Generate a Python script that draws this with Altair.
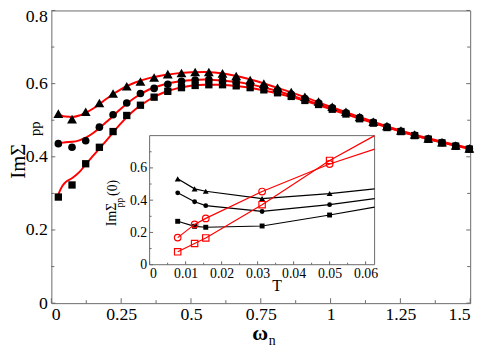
import altair as alt
import pandas as pd

# ---------------- main panel data ----------------
omega_n = [0.025, 0.074, 0.123, 0.172, 0.221, 0.270, 0.319, 0.368, 0.417, 0.466,
           0.515, 0.564, 0.613, 0.662, 0.712, 0.761, 0.810, 0.859, 0.908, 0.957,
           1.006, 1.055, 1.104, 1.153, 1.202, 1.252, 1.301, 1.350, 1.399, 1.448, 1.497]
tri_main = [0.518, 0.503, 0.523, 0.547, 0.573, 0.593, 0.606, 0.617, 0.626, 0.629,
            0.632, 0.632, 0.628, 0.621, 0.610, 0.600, 0.589, 0.577, 0.564, 0.551,
            0.537, 0.523, 0.509, 0.496, 0.484, 0.472, 0.461, 0.450, 0.440, 0.431, 0.423]
circ_main = [0.436, 0.426, 0.444, 0.481, 0.515, 0.547, 0.573, 0.587, 0.598, 0.606,
             0.610, 0.611, 0.609, 0.605, 0.599, 0.591, 0.582, 0.571, 0.559, 0.547,
             0.534, 0.520, 0.507, 0.494, 0.482, 0.470, 0.459, 0.449, 0.439, 0.430, 0.422]
sq_main = [0.290, 0.323, 0.381, 0.426, 0.469, 0.513, 0.541, 0.563, 0.579, 0.589,
           0.595, 0.597, 0.597, 0.594, 0.589, 0.583, 0.575, 0.565, 0.554, 0.543,
           0.530, 0.517, 0.504, 0.492, 0.480, 0.469, 0.458, 0.448, 0.438, 0.429, 0.421]

# red fitted curves
tri_curve_w = [0.02, 0.035, 0.05, 0.075, 0.1, 0.125, 0.15, 0.2, 0.25, 0.3, 0.35, 0.4, 0.45,
               0.5, 0.55, 0.6, 0.7, 0.8, 0.9, 1.0, 1.1, 1.2, 1.3, 1.4, 1.5]
tri_curve = [0.519, 0.513, 0.510, 0.509, 0.513, 0.521, 0.532, 0.560, 0.585, 0.603, 0.615, 0.623, 0.628,
             0.631, 0.632, 0.629, 0.614, 0.591, 0.565, 0.537, 0.510, 0.484, 0.461, 0.441, 0.423]
circ_curve_w = [0.02, 0.035, 0.05, 0.075, 0.1, 0.125, 0.15, 0.2, 0.25, 0.3, 0.35, 0.4, 0.45,
                0.5, 0.55, 0.6, 0.7, 0.8, 0.9, 1.0, 1.1, 1.2, 1.3, 1.4, 1.5]
circ_curve = [0.436, 0.438, 0.440, 0.441, 0.445, 0.453, 0.465, 0.497, 0.532, 0.562, 0.584, 0.597, 0.605,
              0.609, 0.611, 0.609, 0.600, 0.582, 0.558, 0.533, 0.507, 0.482, 0.459, 0.439, 0.422]
sq_curve_w = [0.022, 0.03, 0.04, 0.05, 0.075, 0.1, 0.125, 0.15, 0.2, 0.25, 0.3, 0.35, 0.4, 0.45,
              0.5, 0.55, 0.6, 0.7, 0.8, 0.9, 1.0, 1.1, 1.2, 1.3, 1.4, 1.5]
sq_curve = [0.290, 0.306, 0.321, 0.330, 0.342, 0.358, 0.381, 0.403, 0.447, 0.492, 0.529, 0.556, 0.575, 0.587,
            0.594, 0.597, 0.597, 0.590, 0.575, 0.555, 0.530, 0.505, 0.481, 0.458, 0.439, 0.421]

# ---------------- inset data ----------------
T_points = [0.0078, 0.0125, 0.0156, 0.03125, 0.05]
T_line = [0.0078, 0.0125, 0.0156, 0.03125, 0.05, 0.0625]
ins_tri = [0.532, 0.470, 0.455, 0.410, 0.441, 0.470]
ins_circ = [0.4455, 0.390, 0.366, 0.330, 0.372, 0.410]
ins_sq = [0.269, 0.238, 0.232, 0.240, 0.308, 0.357]
ins_open_circ = [0.168, 0.250, 0.287, 0.4535, 0.624, 0.716]
ins_open_sq = [0.080, 0.1315, 0.166, 0.372, 0.646, 0.800]

# tick values
main_x_major = [0, 0.25, 0.5, 0.75, 1, 1.25, 1.5]
main_x_minor = [0.125, 0.375, 0.625, 0.875, 1.125, 1.375]
main_y_major = [0, 0.2, 0.4, 0.6, 0.8]
main_y_minor = [0.1, 0.3, 0.5, 0.7]
ins_x_major = [0, 0.01, 0.02, 0.03, 0.04, 0.05, 0.06]
ins_x_minor = [0.005, 0.015, 0.025, 0.035, 0.045, 0.055]
ins_y_major = [0, 0.2, 0.4, 0.6]
ins_y_minor = [0.1, 0.3, 0.5, 0.7]

# ---------------- layout / style ----------------
W, H = 425, 297
IX0, IX1 = 99.7, 328.0      # inset left/right in plot pixels
IY0, IY1 = 258.0, 127.0     # inset bottom/top in plot pixels
FRAME = "#6a6a6a"
FONT = "Liberation Serif"
LBL = "'' + datum.value"

XS = alt.Scale(domain=[0, 1.5], nice=False, zero=False)
YS = alt.Scale(domain=[0, 0.8], nice=False, zero=False)
XAX = alt.Axis(values=main_x_major, labelExpr=LBL, ticks=False, domain=False, grid=False, title=None,
               labelFont=FONT, labelFontSize=18, labelColor="black", labelPadding=3, orient="bottom")
YAX = alt.Axis(values=main_y_major, labelExpr=LBL, ticks=False, domain=False, grid=False, title=None,
               labelFont=FONT, labelFontSize=18, labelColor="black", labelPadding=4, orient="left",
               labelOffset={"condition": {"test": "datum.value > 0.79", "value": 6.5}, "value": 0})

IXS = alt.Scale(domain=[0, 0.0625], range=[IX0, IX1], nice=False, zero=False)
IYS = alt.Scale(domain=[0, 0.8], range=[IY0, IY1], nice=False, zero=False)
IXAX = alt.Axis(values=ins_x_major, labelExpr=LBL, ticks=False, domain=False, grid=False, title=None,
                labelFont=FONT, labelFontSize=14, labelColor="black", labelPadding=2,
                orient="bottom", offset=IY0 - H)
IYAX = alt.Axis(values=ins_y_major, labelExpr=LBL, ticks=False, domain=False, grid=False, title=None,
                labelFont=FONT, labelFontSize=14, labelColor="black", labelPadding=3,
                orient="left", offset=-IX0)


def mx(f):
    return alt.X(f, type="quantitative", scale=XS, axis=XAX)


def my(f):
    return alt.Y(f, type="quantitative", scale=YS, axis=YAX)


def ix(f):
    return alt.X(f, type="quantitative", scale=IXS, axis=IXAX)


def iy(f):
    return alt.Y(f, type="quantitative", scale=IYS, axis=IYAX)


def label(txt, px, py, size, angle=0, weight="normal"):
    return alt.Chart(pd.DataFrame({"t": [txt]})).mark_text(
        font=FONT, fontSize=size, angle=angle, align="center", baseline="middle",
        color="black", fontWeight=weight
    ).encode(text="t:N", x=alt.value(px), y=alt.value(py))


# ---------------- main panel ----------------
main_layers = []
# ticks (inward)
for vals, ln in [(main_x_major, 5), (main_x_minor, 3)]:
    main_layers.append(alt.Chart(pd.DataFrame({"t": vals})).mark_rule(color=FRAME, strokeWidth=1)
                       .encode(x=mx("t"), y=alt.value(H), y2=alt.value(H - ln)))
for vals, ln in [(main_y_major, 4), (main_y_minor, 3)]:
    df = pd.DataFrame({"t": vals})
    main_layers.append(alt.Chart(df).mark_rule(color=FRAME, strokeWidth=1)
                       .encode(y=my("t"), x=alt.value(0), x2=alt.value(ln)))
    main_layers.append(alt.Chart(df).mark_rule(color=FRAME, strokeWidth=1)
                       .encode(y=my("t"), x=alt.value(W), x2=alt.value(W - ln)))

# red curves
for cw, cv in [(sq_curve_w, sq_curve), (circ_curve_w, circ_curve), (tri_curve_w, tri_curve)]:
    main_layers.append(alt.Chart(pd.DataFrame({"w": cw, "v": cv}))
                       .mark_line(color="red", strokeWidth=2, interpolate="monotone")
                       .encode(x=mx("w"), y=my("v")))

# markers
for vals, shape, size in [(sq_main, "square", 55), (circ_main, "circle", 60), (tri_main, "triangle-up", 100)]:
    main_layers.append(alt.Chart(pd.DataFrame({"w": omega_n, "v": vals}))
                       .mark_point(shape=shape, filled=True, size=size, color="black", opacity=1)
                       .encode(x=mx("w"), y=my("v")))

# axis titles
main_layers.append(label("ImΣ", -33, 153, 21, angle=270))
main_layers.append(label("pp", -17, 120, 15, angle=270))
main_layers.append(label("ω", 212, 327, 22, weight="bold"))
main_layers.append(label("n", 224, 335, 14))

main = alt.layer(*main_layers)

# ---------------- inset ----------------
ins_layers = []
ins_layers.append(alt.Chart(pd.DataFrame({"x0": [0.0], "x1": [0.0625], "y0": [0.0], "y1": [0.8]}))
                  .mark_rect(fill="white", stroke=FRAME, strokeWidth=1)
                  .encode(x=ix("x0"), x2="x1", y=iy("y0"), y2="y1"))
for vals, ln in [(ins_x_major, 3.5), (ins_x_minor, 2)]:
    ins_layers.append(alt.Chart(pd.DataFrame({"t": vals})).mark_rule(color=FRAME, strokeWidth=1)
                      .encode(x=ix("t"), y=alt.value(IY0), y2=alt.value(IY0 - ln)))
for vals, ln in [(ins_y_major, 3.5), (ins_y_minor, 2)]:
    ins_layers.append(alt.Chart(pd.DataFrame({"t": vals})).mark_rule(color=FRAME, strokeWidth=1)
                      .encode(y=iy("t"), x=alt.value(IX0), x2=alt.value(IX0 + ln)))

for vals, shape, size in [(ins_tri, "triangle-up", 36), (ins_circ, "circle", 24), (ins_sq, "square", 25)]:
    ins_layers.append(alt.Chart(pd.DataFrame({"T": T_line, "v": vals}))
                      .mark_line(color="black", strokeWidth=1.2)
                      .encode(x=ix("T"), y=iy("v")))
    ins_layers.append(alt.Chart(pd.DataFrame({"T": T_points, "v": vals[:5]}))
                      .mark_point(shape=shape, filled=True, size=size, color="black", opacity=1)
                      .encode(x=ix("T"), y=iy("v")))
for vals, shape, size in [(ins_open_circ, "circle", 45), (ins_open_sq, "square", 42)]:
    ins_layers.append(alt.Chart(pd.DataFrame({"T": T_line, "v": vals}))
                      .mark_line(color="red", strokeWidth=1.2)
                      .encode(x=ix("T"), y=iy("v")))
    ins_layers.append(alt.Chart(pd.DataFrame({"T": T_points, "v": vals[:5]}))
                      .mark_point(shape=shape, filled=False, size=size, color="red", strokeWidth=1.2, opacity=1)
                      .encode(x=ix("T"), y=iy("v")))

ins_layers.append(label("ImΣ", 62, 207, 14, angle=270))
ins_layers.append(label("pp", 70, 195, 10, angle=270))
ins_layers.append(label("(0)", 63, 180, 14, angle=270))
ins_layers.append(label("T", 229, 280, 16))

inset = alt.layer(*ins_layers)

chart = (
    alt.layer(main, inset)
    .resolve_scale(x="independent", y="independent")
    .properties(width=W, height=H, padding={"left": 44, "top": 0, "right": 13, "bottom": 42},
                autosize=alt.AutoSizeParams(type="none"), background="white")
    .configure_view(stroke=FRAME, strokeWidth=1)
)

chart.save("out.html", embed_options={"renderer": "svg", "actions": False})
